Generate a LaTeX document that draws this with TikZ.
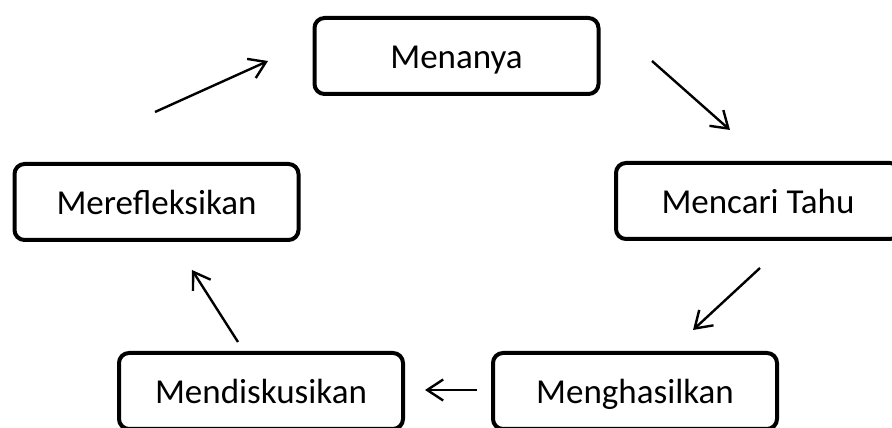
\documentclass[tikz,border=0pt]{standalone}
\usepackage{fontspec}
\setmainfont{Carlito}
\usepackage{tikz}
\usetikzlibrary{arrows.meta}

\begin{document}
\begin{tikzpicture}[
    x=1pt, y=1pt,
    box/.style={rectangle, draw, rounded corners=10pt, line width=4pt,
                minimum width=284pt, minimum height=76pt, inner sep=0pt,
                text height=30pt, text depth=4pt,
                font=\fontsize{35}{40}\selectfont},
    arrow/.style={-{Straight Barb[length=16pt, width=21pt]}, line width=2.4pt},
]
\useasboundingbox (0,0) rectangle (892,428);

% Steps
\node[box] (menanya)  at (456.5, 372) {Menanya};
\node[box] (mencari)  at (758, 227)   {Mencari Tahu};
\node[box] (refleksi) at (156.5, 226) {Merefleksikan};
\node[box] (diskusi)  at (261, 37)    {Mendiskusikan};
\node[box] (hasil)    at (635, 37)    {Menghasilkan};

% Arrow ends
\coordinate (a1s) at (155, 316); \coordinate (a1e) at (268, 367);
\coordinate (a2s) at (652, 367); \coordinate (a2e) at (730, 298);
\coordinate (a3s) at (760, 160); \coordinate (a3e) at (693, 98);
\coordinate (a4s) at (477, 38);  \coordinate (a4e) at (425, 38);
\coordinate (a5s) at (238, 86);  \coordinate (a5e) at (192, 158);

% Cycle
\draw[arrow] (a1s) -- (a1e);
\draw[arrow] (a2s) -- (a2e);
\draw[arrow] (a3s) -- (a3e);
\draw[arrow] (a4s) -- (a4e);
\draw[arrow] (a5s) -- (a5e);
\end{tikzpicture}
\end{document}
